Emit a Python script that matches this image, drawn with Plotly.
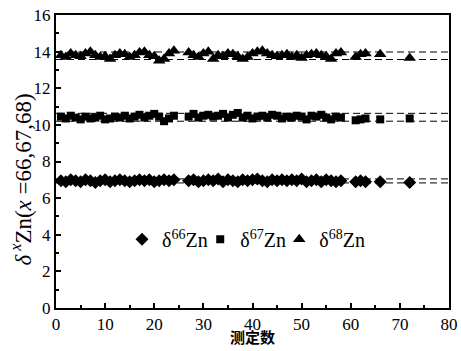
import plotly.graph_objects as go

x_vals = list(range(1, 25)) + list(range(27, 59)) + [61, 62, 63, 66, 72]

d68 = [13.8, 13.7, 13.9, 13.8, 13.75, 13.9, 14.0, 13.8, 13.7, 13.75, 13.6, 13.8, 13.9, 13.85, 13.7, 13.8, 13.95, 14.0, 13.8, 13.75, 13.5, 13.6, 13.9, 14.05,
       13.95, 13.8, 13.7, 13.9, 14.0, 13.6, 13.8, 13.75, 13.9, 13.85, 13.75, 13.6, 13.7, 13.9, 14.0, 14.05, 13.9, 13.8, 13.75, 13.8, 13.85, 13.7, 13.8, 13.65, 13.8, 13.85, 13.9, 13.8, 13.75, 13.6, 13.9, 13.95,
       13.7, 13.85, 13.9, 13.85, 13.65]
d67 = [10.45, 10.35, 10.5, 10.4, 10.3, 10.45, 10.35, 10.4, 10.5, 10.3, 10.35, 10.45, 10.4, 10.5, 10.35, 10.45, 10.55, 10.4, 10.5, 10.6, 10.45, 10.2, 10.35, 10.5,
       10.45, 10.6, 10.4, 10.5, 10.55, 10.45, 10.5, 10.6, 10.4, 10.55, 10.65, 10.4, 10.5, 10.35, 10.45, 10.5, 10.4, 10.55, 10.5, 10.35, 10.45, 10.4, 10.5, 10.45, 10.3, 10.5, 10.45, 10.55, 10.4, 10.3, 10.45, 10.4,
       10.25, 10.3, 10.35, 10.3, 10.35]
d66 = [6.95, 6.9, 7.0, 6.95, 6.9, 7.0, 6.95, 6.85, 6.95, 7.0, 6.9, 6.95, 7.0, 6.95, 6.9, 6.95, 7.0, 6.95, 7.0, 6.9, 6.95, 7.0, 6.95, 7.0,
       6.95, 7.0, 6.9, 6.95, 7.0, 6.95, 7.05, 6.9, 7.0, 6.95, 6.9, 7.0, 6.95, 7.0, 7.05, 6.95, 6.9, 7.0, 6.95, 7.0, 6.95, 7.0, 6.95, 7.05, 6.9, 6.95, 7.0, 6.9, 7.0, 6.95, 6.9, 6.95,
       6.9, 6.95, 6.9, 6.9, 6.85]

limit_x = [0, 80]
limits = {"d66": [7.05, 6.83], "d67": [10.63, 10.2], "d68": [13.98, 13.57]}

series_names = ["δ<sup>66</sup>Zn", "δ<sup>67</sup>Zn", "δ<sup>68</sup>Zn"]
x_ticks = [0, 10, 20, 30, 40, 50, 60, 70, 80]
y_ticks = [0, 2, 4, 6, 8, 10, 12, 14, 16]
y_title = "<i>δ</i><sup> <i>x</i></sup>Zn(<i>x</i> =66,67,68)"
x_title = "<b>测定数</b>"

FONT = "Liberation Serif, Times New Roman, serif"
fig = go.Figure()

for key in ["d66", "d67", "d68"]:
    for v in limits[key]:
        fig.add_trace(go.Scatter(x=limit_x, y=[v, v], mode="lines",
                                 line=dict(color="black", width=1, dash="7px,4px"),
                                 showlegend=False, hoverinfo="skip"))

fig.add_trace(go.Scatter(x=x_vals, y=d66, mode="markers", name=series_names[0], legend="legend",
                         marker=dict(symbol="diamond", size=10, color="black")))
fig.add_trace(go.Scatter(x=x_vals, y=d67, mode="markers", name=series_names[1], legend="legend2",
                         marker=dict(symbol="square", size=8, color="black")))
fig.add_trace(go.Scatter(x=x_vals, y=d68, mode="markers", name=series_names[2], legend="legend3",
                         marker=dict(symbol="triangle-up", size=11, color="black")))

axis_common = dict(showline=True, linecolor="black", linewidth=2, mirror=True,
                   ticks="inside", ticklen=5, tickwidth=1.5, tickcolor="black",
                   showgrid=False, zeroline=False, automargin=False,
                   tickfont=dict(family=FONT, size=17, color="black"))

fig.update_xaxes(range=[0, 80], tickvals=x_ticks,
                 minor=dict(dtick=5, ticks="inside", ticklen=3, tickcolor="black"),
                 **axis_common)
fig.update_yaxes(range=[0, 16], tickvals=y_ticks,
                 minor=dict(dtick=1, ticks="inside", ticklen=3, tickcolor="black"),
                 **axis_common)

fig.add_annotation(text=y_title, xref="paper", yref="paper", x=-0.088, y=0.44,
                   xanchor="center", yanchor="middle", textangle=-90, showarrow=False,
                   font=dict(family=FONT, size=23, color="black"))
fig.add_annotation(text=x_title, xref="paper", yref="paper", x=0.5, y=-0.14,
                   xanchor="center", yanchor="bottom", showarrow=False,
                   font=dict(family="Noto Sans CJK SC", size=15, color="black"))

leg_common = dict(orientation="h", y=0.235, xanchor="left", yanchor="middle",
                  bgcolor="rgba(0,0,0,0)", font=dict(family=FONT, size=20),
                  itemwidth=30)

fig.update_layout(
    width=461, height=351,
    margin=dict(l=56, r=12, t=15, b=43),
    paper_bgcolor="white", plot_bgcolor="white",
    font=dict(family=FONT, size=17, color="black"),
    legend=dict(x=0.168, **leg_common),
    legend2=dict(x=0.367, **leg_common),
    legend3=dict(x=0.568, **leg_common),
)

fig.write_html("out.html")
